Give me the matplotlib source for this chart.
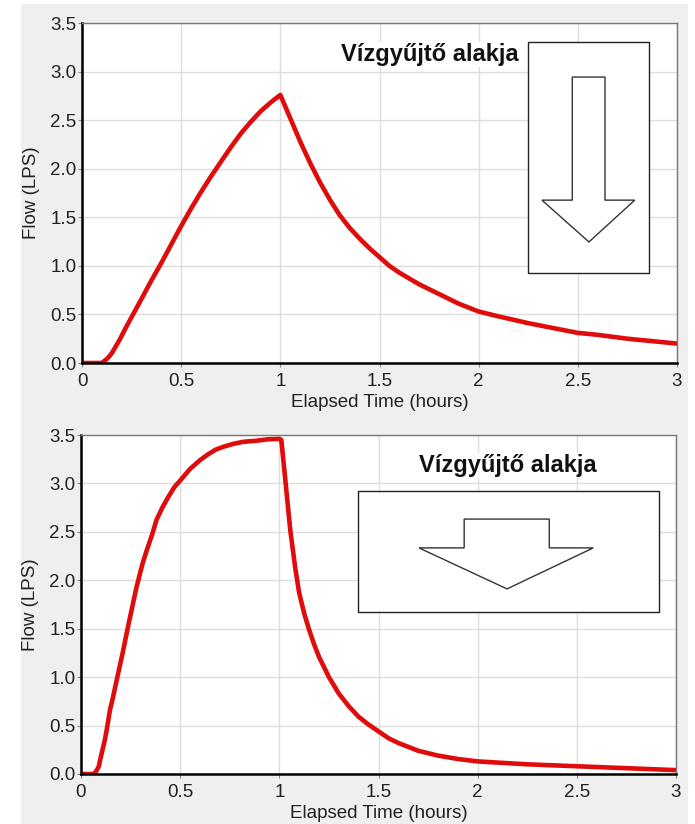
import matplotlib
matplotlib.use("Agg")
import matplotlib.pyplot as plt
from matplotlib.patches import Rectangle, Polygon

plt.rcParams['font.family'] = ['Liberation Sans', 'DejaVu Sans']

# hydrograph 1 - long, narrow catchment
time_1 = [0, 0.1, 0.13, 0.15, 0.17, 0.19, 0.22, 0.26, 0.3, 0.35, 0.4, 0.45,
          0.5, 0.55, 0.6, 0.65, 0.7, 0.75, 0.8, 0.85, 0.9, 0.95, 1.0,
          1.05, 1.1, 1.15, 1.2, 1.25, 1.3, 1.35, 1.4, 1.45, 1.5, 1.55, 1.6,
          1.65, 1.7, 1.75, 1.8, 1.85, 1.9, 1.95, 2.0, 2.1, 2.25, 2.4, 2.5,
          2.6, 2.75, 2.9, 3.0]
flow_1 = [0, 0, 0.05, 0.1, 0.17, 0.24, 0.36, 0.51, 0.66, 0.85, 1.03, 1.22,
          1.41, 1.59, 1.76, 1.92, 2.07, 2.22, 2.36, 2.48, 2.59, 2.68, 2.76,
          2.52, 2.28, 2.06, 1.86, 1.68, 1.52, 1.39, 1.28, 1.18, 1.09, 1.0, 0.93,
          0.87, 0.81, 0.76, 0.71, 0.66, 0.61, 0.57, 0.53, 0.48, 0.41, 0.35, 0.31,
          0.29, 0.25, 0.22, 0.2]

# hydrograph 2 - wide catchment
time_2 = [0, 0.04, 0.06, 0.07, 0.08, 0.09, 0.096, 0.105, 0.12, 0.13, 0.146,
          0.16, 0.18, 0.21, 0.24, 0.28, 0.31, 0.33, 0.36, 0.38, 0.41, 0.44,
          0.47, 0.5, 0.55, 0.6, 0.64, 0.68, 0.72, 0.77, 0.82, 0.88, 0.94, 1.0,
          1.01, 1.03, 1.055, 1.08, 1.1, 1.125, 1.15, 1.175, 1.2, 1.25, 1.3,
          1.35, 1.4, 1.45, 1.5, 1.55, 1.6, 1.7, 1.8, 1.9, 2.0, 2.25, 2.5,
          2.75, 3.0]
flow_2 = [0, 0, 0, 0.01, 0.04, 0.08, 0.14, 0.22, 0.35, 0.46, 0.66,
          0.78, 0.97, 1.25, 1.55, 1.93, 2.17, 2.3, 2.48, 2.62, 2.75, 2.86,
          2.96, 3.03, 3.15, 3.24, 3.3, 3.35, 3.38, 3.41, 3.43, 3.44, 3.455, 3.46,
          3.45, 3.04, 2.52, 2.13, 1.87, 1.66, 1.49, 1.34, 1.21, 1.0, 0.83,
          0.7, 0.59, 0.51, 0.44, 0.37, 0.32, 0.24, 0.19, 0.155, 0.13, 0.1, 0.08,
          0.06, 0.04]

x_ticks = [0, 0.5, 1, 1.5, 2, 2.5, 3]
x_labels = ['0', '0.5', '1', '1.5', '2', '2.5', '3']
y_ticks = [0, 0.5, 1.0, 1.5, 2.0, 2.5, 3.0, 3.5]
y_labels = ['0.0', '0.5', '1.0', '1.5', '2.0', '2.5', '3.0', '3.5']

title = 'Vízgyűjtő alakja'

fig = plt.figure(figsize=(6.95, 8.24), dpi=100, facecolor='white')
# gray panel behind both charts
fig.patches.append(Rectangle((21 / 695, 0), 667 / 695, 820 / 824,
                             transform=fig.transFigure, facecolor='#efefef',
                             edgecolor='none', zorder=-10))

ax1 = fig.add_axes([82 / 695, 1 - 363 / 824, 595 / 695, 340 / 824])
ax2 = fig.add_axes([81 / 695, 1 - 774 / 824, 595 / 695, 339 / 824])


def style(ax):
    ax.set_facecolor('white')
    ax.set_xlim(0, 3)
    ax.set_ylim(0, 3.5)
    ax.set_xticks(x_ticks)
    ax.set_xticklabels(x_labels)
    ax.set_yticks(y_ticks)
    ax.set_yticklabels(y_labels)
    ax.grid(True, color='#dcdcdc', linewidth=1)
    ax.set_axisbelow(True)
    ax.tick_params(labelsize=13.5, labelcolor='#222222', length=3,
                   color='#888888', pad=1)
    ax.tick_params(axis='x', pad=4)
    ax.spines['left'].set_linewidth(1.8)
    ax.spines['bottom'].set_linewidth(1.8)
    ax.spines['left'].set_color('black')
    ax.spines['bottom'].set_color('black')
    ax.spines['top'].set_color('#777777')
    ax.spines['right'].set_color('#777777')
    ax.spines['top'].set_linewidth(1)
    ax.spines['right'].set_linewidth(1)
    ax.set_xlabel('Elapsed Time (hours)', fontsize=13.5, color='#222222', labelpad=3)
    ax.set_ylabel('Flow (LPS)', fontsize=13.5, color='#222222')
    ax.yaxis.set_label_coords(-0.07, 0.5)


style(ax1)
style(ax2)

ax1.plot(time_1, flow_1, color='#e00b0b', linewidth=3.3,
         solid_joinstyle='round', solid_capstyle='round')
ax2.plot(time_2, flow_2, color='#e00b0b', linewidth=3.3,
         solid_joinstyle='round', solid_capstyle='round')

# catchment shape sketches (axes fraction)
ax1.add_patch(Rectangle((0.750, 0.265), 0.203, 0.679, transform=ax1.transAxes,
                        facecolor='white', edgecolor='#222222', linewidth=1, zorder=3))
ax1.add_patch(Polygon([(0.824, 0.841), (0.879, 0.841), (0.879, 0.479),
                       (0.929, 0.479), (0.852, 0.356), (0.773, 0.479),
                       (0.824, 0.479)], closed=True, transform=ax1.transAxes,
                      facecolor='white', edgecolor='#333333', linewidth=1, zorder=4))
ax1.text(0.733, 0.888, title, transform=ax1.transAxes, ha='right', va='baseline',
         fontsize=17, fontweight='bold', color='#111111', zorder=5,
         bbox=dict(facecolor='white', edgecolor='none', pad=1))

ax2.add_patch(Rectangle((0.466, 0.478), 0.505, 0.357, transform=ax2.transAxes,
                        facecolor='white', edgecolor='#222222', linewidth=1, zorder=3))
ax2.add_patch(Polygon([(0.644, 0.752), (0.787, 0.752), (0.787, 0.667),
                       (0.861, 0.667), (0.716, 0.546), (0.568, 0.667),
                       (0.644, 0.667)], closed=True, transform=ax2.transAxes,
                      facecolor='white', edgecolor='#333333', linewidth=1, zorder=4))
ax2.text(0.867, 0.891, title, transform=ax2.transAxes, ha='right', va='baseline',
         fontsize=17, fontweight='bold', color='#111111', zorder=5,
         bbox=dict(facecolor='white', edgecolor='none', pad=1))

fig.savefig('out.png', dpi=100, facecolor=fig.get_facecolor())
